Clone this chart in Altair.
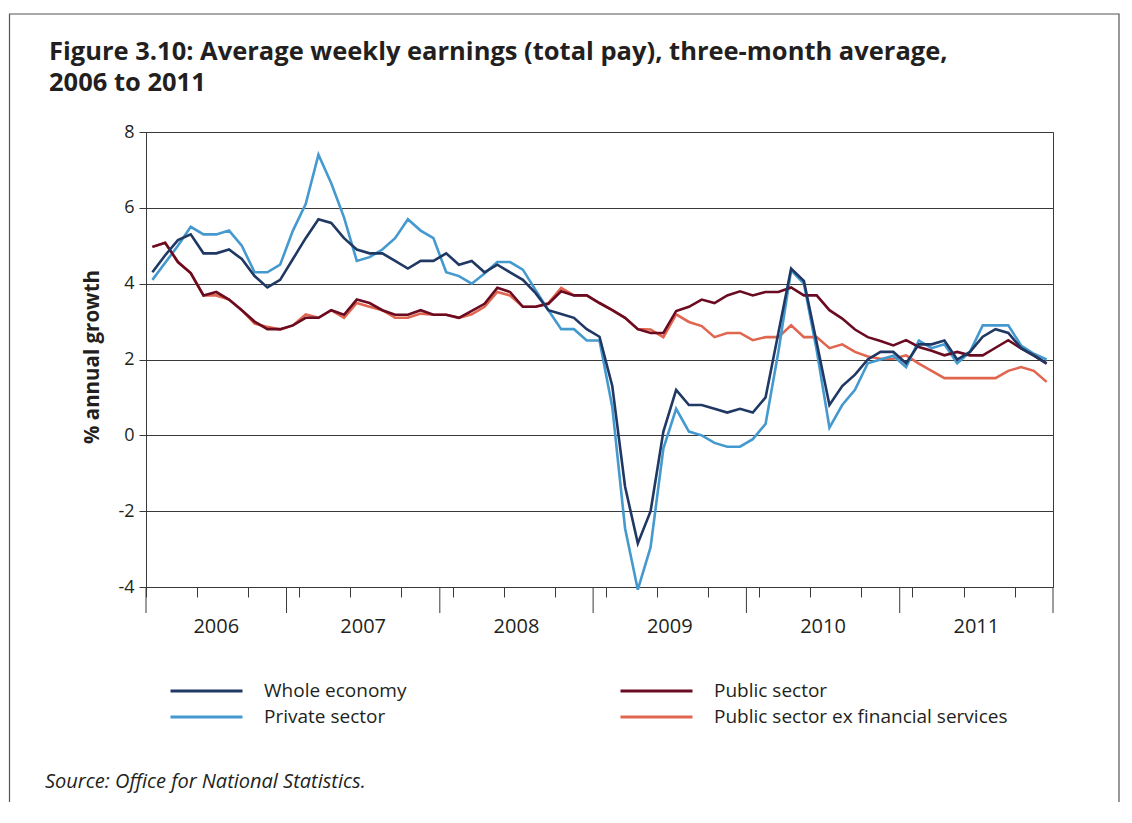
import altair as alt
import pandas as pd

# ---- data ----
years = [2006, 2007, 2008, 2009, 2010, 2011]
months = [f"{y}-{m:02d}" for y in years for m in range(1, 13)][1:]  # Feb 2006 .. Dec 2011 (71)

whole_economy = [4.3, 4.75, 5.15, 5.3, 4.8, 4.8, 4.9, 4.65, 4.2, 3.9,
                 4.1, 4.65, 5.2, 5.7, 5.6, 5.2, 4.9, 4.8, 4.8, 4.6,
                 4.4, 4.6, 4.6, 4.8, 4.5, 4.6, 4.3, 4.5, 4.3, 4.1,
                 3.75, 3.3, 3.2, 3.1, 2.8, 2.6, 1.3, -1.35, -2.85, -2.0,
                 0.1, 1.2, 0.8, 0.8, 0.7, 0.6, 0.7, 0.6, 1.0, 2.7,
                 4.4, 4.07, 2.45, 0.8, 1.3, 1.6, 2.0, 2.2, 2.2, 1.9,
                 2.4, 2.4, 2.5, 2.0, 2.2, 2.6, 2.8, 2.7, 2.3, 2.1, 1.9]
private_sector = [4.1, 4.55, 5.0, 5.5, 5.3, 5.3, 5.4, 5.0, 4.3, 4.3,
                  4.5, 5.4, 6.1, 7.4, 6.65, 5.75, 4.6, 4.7, 4.9, 5.2,
                  5.7, 5.4, 5.2, 4.3, 4.2, 4.0, 4.27, 4.57, 4.57, 4.37,
                  3.83, 3.3, 2.8, 2.8, 2.5, 2.5, 0.75, -2.45, -4.07, -2.95,
                  -0.35, 0.7, 0.1, 0.0, -0.2, -0.3, -0.3, -0.1, 0.3, 2.2,
                  4.35, 4.0, 2.25, 0.2, 0.8, 1.2, 1.9, 2.0, 2.1, 1.8,
                  2.5, 2.3, 2.4, 1.9, 2.2, 2.9, 2.9, 2.9, 2.37, 2.15, 2.0]
public_sector = [4.97, 5.08, 4.57, 4.28, 3.69, 3.78, 3.58, 3.3, 3.0, 2.8,
                 2.8, 2.9, 3.1, 3.1, 3.3, 3.18, 3.58, 3.49, 3.3, 3.18,
                 3.18, 3.3, 3.18, 3.18, 3.1, 3.28, 3.47, 3.89, 3.78, 3.39,
                 3.39, 3.47, 3.8, 3.69, 3.69, 3.49, 3.3, 3.1, 2.8, 2.7,
                 2.7, 3.28, 3.39, 3.58, 3.49, 3.69, 3.8, 3.69, 3.78, 3.78,
                 3.9, 3.69, 3.69, 3.3, 3.08, 2.79, 2.59, 2.49, 2.37, 2.51,
                 2.33, 2.23, 2.11, 2.2, 2.11, 2.11, 2.31, 2.51, 2.29, 2.11, 1.89]
public_ex_fin = [4.97, 5.08, 4.57, 4.28, 3.69, 3.69, 3.58, 3.3, 2.95, 2.86,
                 2.79, 2.9, 3.19, 3.1, 3.3, 3.1, 3.49, 3.39, 3.3, 3.1,
                 3.1, 3.21, 3.18, 3.18, 3.1, 3.19, 3.39, 3.78, 3.69, 3.39,
                 3.39, 3.49, 3.89, 3.69, 3.69, 3.49, 3.3, 3.1, 2.8, 2.79,
                 2.59, 3.19, 2.99, 2.88, 2.59, 2.7, 2.7, 2.51, 2.59, 2.59,
                 2.9, 2.59, 2.59, 2.3, 2.4, 2.2, 2.08, 2.02, 2.02, 2.11,
                 1.89, 1.7, 1.51, 1.51, 1.51, 1.51, 1.51, 1.7, 1.8, 1.7, 1.41]

# legend is filled column by column: left column, then right column
series_names = ["Whole economy", "Private sector", "Public sector",
                "Public sector ex financial services"]
series_colors = ["#1f3864", "#4499cf", "#6b0b22", "#e0664f"]
y_ticks = [-4, -2, 0, 2, 4, 6, 8]

title_text = "Figure 3.10: Average weekly earnings (total pay), three-month average,\n2006 to 2011"
source_text = "Source: Office for National Statistics."

# ---- tables ----
draw_order = [
    ("Public sector ex financial services", public_ex_fin),
    ("Private sector", private_sector),
    ("Public sector", public_sector),
    ("Whole economy", whole_economy),
]
rows = []
for name, vals in draw_order:
    for i, (m, v) in enumerate(zip(months, vals)):
        rows.append({"series": name, "month": m, "idx": i, "value": v})
df = pd.DataFrame(rows)

n = len(months)
bounds = [0]
for y in years:
    cnt = sum(1 for m in months if m.startswith(str(y)))
    bounds.append(bounds[-1] + cnt)
year_df = pd.DataFrame({
    "year": [str(y) for y in years],
    "start": bounds[:-1],
    "end": bounds[1:],
})
year_df["mid"] = (year_df["start"] + year_df["end"]) / 2
bound_df = pd.DataFrame({"b": bounds})

W, H = 907, 455
FONT = "Open Sans"
TXT = "#231f20"
GRID = "#3a3a3a"

xscale = alt.Scale(domain=[0, n], nice=False, zero=False)
yscale = alt.Scale(domain=[-4, 8], nice=False, zero=False)

lines = alt.Chart(df).transform_calculate(
    xc="datum.idx + 0.5"
).mark_line(strokeWidth=2.6).encode(
    x=alt.X("xc:Q", scale=xscale,
            axis=alt.Axis(values=list(range(n + 1)), labels=False, grid=False,
                          tickSize=10, tickColor=GRID, domainColor=GRID,
                          title=None)),
    y=alt.Y("value:Q", scale=yscale,
            axis=alt.Axis(values=y_ticks, grid=True, gridColor=GRID, gridWidth=1,
                          tickSize=7, tickColor=GRID, domainColor=GRID,
                          labelFontSize=18, labelFont=FONT, labelColor=TXT,
                          labelPadding=5, labelExpr="'' + datum.value",
                          title="% annual growth", titleFont=FONT,
                          titleFontSize=20.5, titleFontWeight="bold",
                          titleColor=TXT, titleX=-54, titleY=H / 2 - 3,
                          titleAngle=270, titleBaseline="middle",
                          titleAlign="center")),
    color=alt.Color("series:N",
                    scale=alt.Scale(domain=series_names, range=series_colors),
                    legend=alt.Legend(orient="none", legendX=23, legendY=549,
                                      columns=2, title=None,
                                      symbolType="stroke", symbolSize=5184,
                                      symbolStrokeWidth=3, labelFont=FONT,
                                      labelFontSize=19, labelColor=TXT,
                                      labelOffset=20, labelLimit=500,
                                      columnPadding=212, rowPadding=6,
                                      clipHeight=20)),
    detail="series:N",
)

year_ticks = alt.Chart(bound_df).mark_rule(color=GRID, strokeWidth=1).encode(
    x=alt.X("b:Q", scale=xscale),
    y=alt.value(H),
    y2=alt.value(H + 26),
)

year_labels = alt.Chart(year_df).mark_text(
    font=FONT, fontSize=20, color=TXT, baseline="middle", align="center"
).encode(
    x=alt.X("mid:Q", scale=xscale),
    y=alt.value(H + 40),
    text="year:N",
)

one = pd.DataFrame({"k": [0]})
frame = alt.Chart(one).mark_rect(fillOpacity=0, stroke="#555555", strokeWidth=1.2).encode(
    x=alt.value(-136.5), x2=alt.value(973), y=alt.value(-118), y2=alt.value(900)
)

title = alt.Chart(one).mark_text(
    font=FONT, fontSize=25.5, fontWeight="bold", color=TXT, align="left",
    baseline="alphabetic", lineBreak="\n", lineHeight=31
).encode(x=alt.value(-97), y=alt.value(-72), text=alt.value(title_text))

source = alt.Chart(one).mark_text(
    font=FONT, fontSize=20, fontStyle="italic", color=TXT, align="left",
    baseline="middle"
).encode(x=alt.value(-101), y=alt.value(650), text=alt.value(source_text))

chart = alt.layer(frame, lines, year_ticks, year_labels, title, source).properties(
    width=W, height=H,
    autosize=alt.AutoSizeParams(type="none"),
    padding={"left": 138, "top": 124, "right": 71, "bottom": 215},
    background="white",
).configure_view(stroke=GRID, strokeWidth=1)

chart.save("out.html", embed_options={"renderer": "svg", "actions": False})
